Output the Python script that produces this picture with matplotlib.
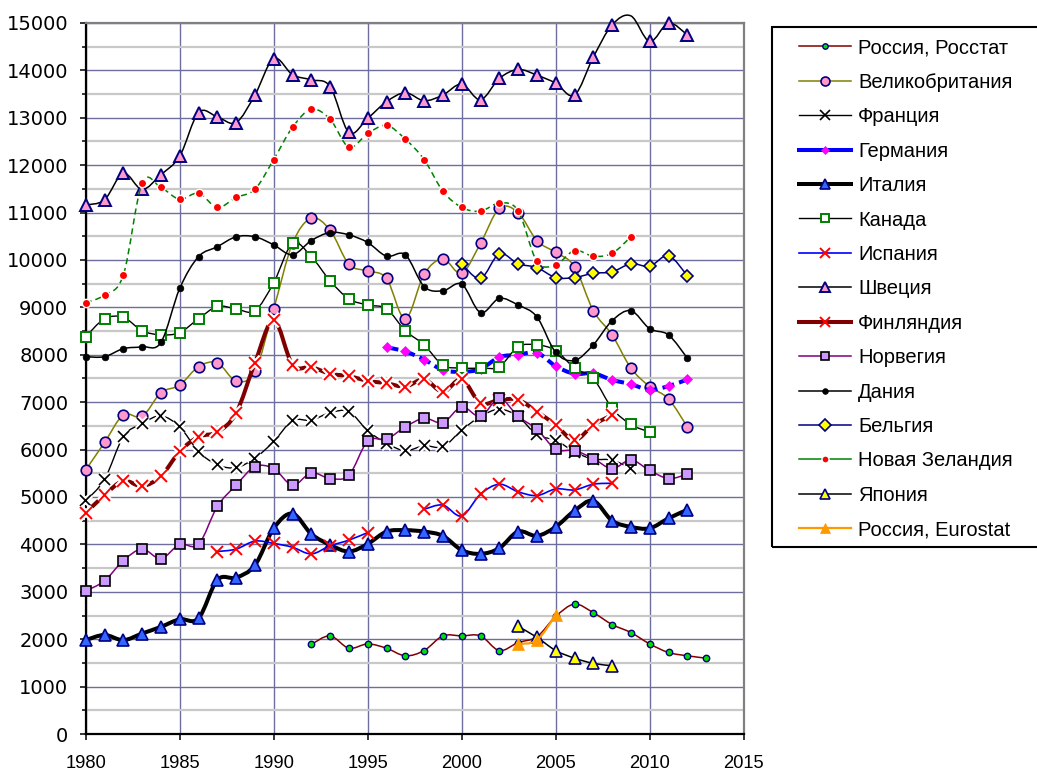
import matplotlib
matplotlib.use("Agg")
import matplotlib.pyplot as plt
import matplotlib.patheffects as pe
import numpy as np
from matplotlib import font_manager
from matplotlib.lines import Line2D
from matplotlib.patches import PathPatch, Rectangle
from matplotlib.path import Path

# --- data ------------------------------------------------------------------
rus_rosstat_start = 1992
rus_rosstat = [1890, 2070, 1810, 1900, 1810, 1650, 1760, 2070, 2070, 2070, 1760,
               1930, 2050, 2480, 2740, 2560, 2310, 2140, 1900, 1720, 1650, 1600]

uk_start = 1980
uk = [5570, 6150, 6730, 6700, 7200, 7360, 7750, 7830, 7450, 7650,
      8970, 10350, 10880, 10630, 9910, 9770, 9610, 8760, 9700, 10020,
      9720, 10350, 11090, 11000, 10410, 10160, 9860, 8930, 8420, 7720,
      7330, 7070, 6480]

france_start = 1980
france = [4920, 5370, 6270, 6550, 6710, 6480, 5960, 5680, 5620, 5820,
          6170, 6610, 6620, 6780, 6800, 6400, 6130, 5980, 6080, 6060,
          6410, 6700, 6850, 6700, 6310, 6200, 5950, 5800, 5780, 5600]

germany_start = 1996
germany = [8160, 8070, 7900, 7680, 7640, 7700, 7950, 8000, 8045, 7760,
           7600, 7610, 7470, 7380, 7260, 7340, 7480]

italy_start = 1980
italy = [1980, 2090, 1980, 2120, 2260, 2420, 2440, 3250, 3300, 3560,
         4340, 4650, 4220, 3990, 3850, 4010, 4270, 4300, 4270, 4180,
         3880, 3800, 3920, 4270, 4180, 4370, 4710, 4920, 4500, 4370,
         4340, 4550, 4730]

canada_start = 1980
canada = [8380, 8760, 8790, 8510, 8420, 8470, 8760, 9020, 8970, 8930,
          9520, 10350, 10070, 9560, 9180, 9050, 8970, 8510, 8210, 7780,
          7720, 7720, 7750, 8170, 8210, 8090, 7720, 7500, 6870, 6530,
          6370]

spain_start = 1987
spain = [3850, 3900, 4070, 4020, 3940, 3800, 3970, 4090, 4250, np.nan,
         np.nan, 4740, 4830, 4600, 5060, 5270, 5110, 5030, 5170, 5150,
         5270, 5290]

sweden_start = 1980
sweden = [11160, 11270, 11830, 11490, 11800, 12190, 13110, 13020, 12900, 13480,
          14250, 13910, 13800, 13660, 12690, 12990, 13340, 13530, 13360, 13480,
          13710, 13380, 13830, 14020, 13900, 13730, 13480, 14280, 14960, 15150,
          14610, 15000, 14750]

finland_start = 1980
finland = [4660, 5040, 5340, 5230, 5440, 5960, 6270, 6370, 6770, 7830,
           8730, 7790, 7740, 7600, 7550, 7450, 7400, 7330, 7480, 7220,
           7480, 6980, 7050, 7050, 6800, 6520, 6200, 6520, 6730]

norway_start = 1980
norway = [3020, 3230, 3660, 3900, 3700, 4000, 4000, 4800, 5250, 5640,
          5600, 5250, 5510, 5390, 5460, 6180, 6220, 6480, 6660, 6570,
          6900, 6700, 7080, 6700, 6430, 6010, 5980, 5810, 5600, 5780,
          5560, 5390, 5480]

denmark_start = 1980
denmark = [7960, 7960, 8130, 8170, 8260, 9400, 10070, 10280, 10490, 10490,
           10320, 10110, 10410, 10580, 10530, 10370, 10080, 10110, 9440, 9350,
           9490, 8890, 9190, 9050, 8800, 8050, 7880, 8210, 8720, 8930,
           8550, 8420, 7930]

belgium_start = 2000
belgium = [9920, 9610, 10130, 9920, 9840, 9630, 9630, 9720, 9750, 9920,
           9870, 10090, 9670]

nz_start = 1980
nz = [9100, 9260, 9680, 11620, 11530, 11280, 11410, 11110, 11320, 11490,
      12120, 12800, 13180, 12970, 12380, 12670, 12840, 12550, 12120, 11450,
      11110, 11030, 11200, 11040, 9970, 9900, 10200, 10080, 10140, 10490]

japan_start = 2003
japan = [2270, 2040, 1760, 1600, 1490, 1440]

rus_eurostat_start = 2003
rus_eurostat = [1900, 1980, 2510]

labels = ["Россия, Росстат", "Великобритания", "Франция", "Германия", "Италия",
          "Канада", "Испания", "Швеция", "Финляндия", "Норвегия", "Дания",
          "Бельгия", "Новая Зеландия", "Япония", "Россия, Eurostat"]

x_ticks = [1980, 1985, 1990, 1995, 2000, 2005, 2010, 2015]
y_max = 15000

NAVY = "#000080"
# (values, start, line colour, line width, dashes, marker, ms, face, edge, mew, halo)
SERIES = [
    (rus_rosstat, rus_rosstat_start, "#800000", 1.1, None, "o", 4.6, "#00E000", NAVY, 1.0, False),
    (uk, uk_start, "#808000", 1.1, None, "o", 7.6, "#FF99CC", NAVY, 1.2, False),
    (france, france_start, "black", 1.0, None, "x", 8.0, "black", "black", 1.2, True),
    (germany, germany_start, "#0000FF", 2.9, (3.0, 1.3), "D", 4.6, "#FF00FF", "#FF00FF", 0.5, False),
    (italy, italy_start, "black", 2.9, None, "^", 8.6, "#3366FF", NAVY, 1.2, False),
    (canada, canada_start, "black", 1.0, None, "s", 7.4, "white", "#008000", 1.4, False),
    (spain, spain_start, "#0000FF", 1.2, None, "x", 8.6, "#FF0000", "#FF0000", 1.4, False),
    (sweden, sweden_start, "black", 1.1, None, "^", 9.0, "#FF99CC", NAVY, 1.4, False),
    (finland, finland_start, "#800000", 2.9, None, "x", 8.6, "#FF0000", "#FF0000", 1.4, True),
    (norway, norway_start, "#800080", 1.1, None, "s", 7.4, "#CC99FF", "black", 1.2, False),
    (denmark, denmark_start, "black", 1.1, None, "o", 4.8, "black", "black", 0.5, False),
    (belgium, belgium_start, NAVY, 1.1, None, "D", 6.6, "#FFFF00", NAVY, 1.2, False),
    (nz, nz_start, "#008000", 1.1, (4.0, 2.6), "o", 6.0, "#FF0000", "white", 1.0, False),
    (japan, japan_start, "black", 1.1, None, "^", 8.6, "#FFFF00", NAVY, 1.2, False),
    (rus_eurostat, rus_eurostat_start, "#FF9900", 1.6, None, "^", 9.0, "#FF9900", "#FF9900", 0.5, False),
]

GRID_MAJOR = "#6E6E9E"
GRID_MINOR = "#C8C8C8"


def smooth_path(xs, ys):
    """Bezier path through the points, like the spreadsheet's smoothed line."""
    pts = np.column_stack([xs, ys]).astype(float)
    verts = [pts[0]]
    codes = [Path.MOVETO]
    n = len(pts)
    for i in range(n - 1):
        p0 = pts[max(i - 1, 0)]
        p1 = pts[i]
        p2 = pts[i + 1]
        p3 = pts[min(i + 2, n - 1)]
        verts += [p1 + (p2 - p0) / 6.0, p2 - (p3 - p1) / 6.0, p2]
        codes += [Path.CURVE4] * 3
    return Path(verts, codes)


def runs(years, vals):
    ok = np.isfinite(vals)
    start = None
    for i, good in enumerate(list(ok) + [False]):
        if good and start is None:
            start = i
        elif not good and start is not None:
            yield years[start:i], vals[start:i]
            start = None


font_names = {f.name for f in font_manager.fontManager.ttflist}
SANS = "Liberation Sans" if "Liberation Sans" in font_names else "DejaVu Sans"
plt.rcParams["font.family"] = [SANS, "DejaVu Sans"]

fig = plt.figure(figsize=(10.37, 7.73), dpi=100, facecolor="white")
W, H = 1037.0, 773.0
ax = fig.add_axes([85.7 / W, 1 - 734 / H, (743.7 - 85.7) / W, (734 - 23) / H])

ax.set_xlim(1980, 2015)
ax.set_ylim(0, y_max)
ax.set_xticks(x_ticks)
ax.set_yticks(np.arange(0, y_max + 1, 1000))
ax.set_yticks(np.arange(500, y_max, 1000), minor=True)
ax.set_yticklabels([str(v) for v in range(0, y_max + 1, 1000)], fontsize=14,
                   family="DejaVu Sans")
ax.set_xticklabels([str(v) for v in x_ticks], fontsize=13.2)

ax.grid(which="major", axis="both", color=GRID_MAJOR, lw=1.0, zorder=0)
ax.grid(which="minor", axis="y", color=GRID_MINOR, lw=1.6, zorder=0)
ax.set_axisbelow(True)
ax.tick_params(axis="y", which="major", length=4.5, width=1.1, pad=8, direction="out")
ax.tick_params(axis="y", which="minor", length=3, width=1.1, direction="out")
ax.tick_params(axis="x", which="major", length=4.5, width=1.1, pad=10.5, direction="out")
for side in ("left", "bottom"):
    ax.spines[side].set_color("black")
    ax.spines[side].set_linewidth(1.6)
for side in ("top", "right"):
    ax.spines[side].set_color("#808080")
    ax.spines[side].set_linewidth(1.6)

handles = []
for k, (vals, start, lc, lw, dashes, mk, ms, mfc, mec, mew, halo) in enumerate(SERIES):
    vals = np.array(vals, dtype=float)
    years = np.arange(start, start + len(vals))
    z = 3 + k
    for yrs, seg in runs(years, vals):
        if len(seg) < 2:
            continue
        ls = (0, dashes) if dashes else "solid"
        patch = PathPatch(smooth_path(yrs, seg), fill=False, edgecolor=lc, lw=lw,
                          linestyle=ls, joinstyle="round", capstyle="butt",
                          zorder=z, clip_on=False)
        ax.add_patch(patch)
    shown = np.where(vals <= y_max, vals, np.nan)
    effects = [pe.Stroke(linewidth=mew + 3.0, foreground="white"), pe.Normal()] if halo else None
    ax.plot(years, shown, linestyle="none", marker=mk, ms=ms, mfc=mfc, mec=mec, mew=mew,
            zorder=z + 0.5, clip_on=False, path_effects=effects)
    handles.append(Line2D([], [], color=lc, lw=lw, marker=mk, ms=ms * 0.85, mfc=mfc,
                          mec=mec, mew=mew))

leg = fig.legend(handles, labels, loc="upper left", bbox_to_anchor=(799 / W, 1 - 38.5 / H),
                 frameon=False, fontsize=14.5, borderpad=0, borderaxespad=0,
                 handlelength=2.6, handletextpad=0.33, labelspacing=0.765)
for t in leg.get_texts():
    t.set_color("black")
fig.patches.append(Rectangle((772 / W, 1 - 547 / H), (1040 - 772) / W, (547 - 27) / H,
                             transform=fig.transFigure, fill=False, edgecolor="black",
                             lw=1.5, figure=fig))

fig.savefig("out.png", dpi=100, facecolor="white")
